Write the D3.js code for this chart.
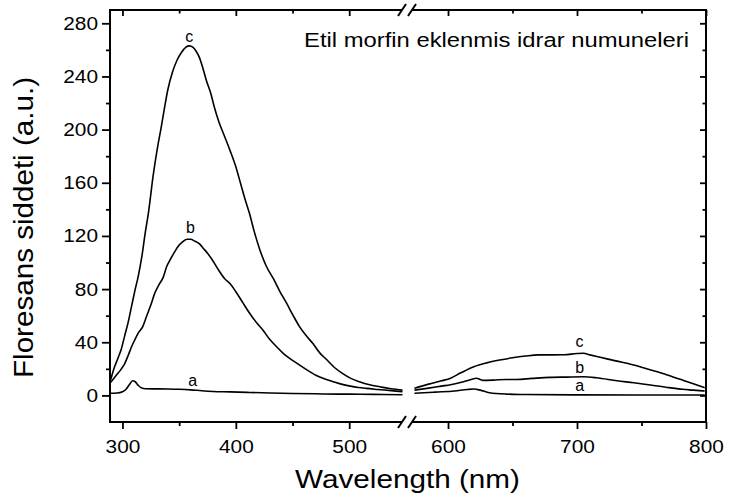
<!DOCTYPE html>
<html>
<head>
<meta charset="utf-8">
<script src="https://cdn.jsdelivr.net/npm/d3@7/dist/d3.min.js"></script>
<style>
  html, body { margin: 0; padding: 0; background: #fff; }
  svg { display: block; }
  text { font-family: "Liberation Sans", Arial, Helvetica, sans-serif; fill: #000; }
</style>
</head>
<body>
<svg id="chart" width="729" height="503"></svg>
<script>
// ---------------- data ----------------
const title = "Etil morfin eklenmis idrar numuneleri";
const xLabel = "Wavelength (nm)";
const yLabel = "Floresans siddeti (a.u.)";

const xTicksLeft = [300, 400, 500];
const xMinorLeft = [350, 450];
const xTicksRight = [600, 700, 800];
const xMinorRight = [650, 750];
const yTicks = [0, 40, 80, 120, 160, 200, 240, 280];
const yMinor = [20, 60, 100, 140, 180, 220, 260];

// curve c, first segment [wavelength, intensity]
const cLeft = [[289.7,12],[292,19],[296,28],[299,35],[302,45],[305,55],[308,67],[311,79],[314,90],[317,104],
  [320,122],[323,138],[327,165],[331,187],[334,201],[337,216],[340,230],[344,243],[348,252],[352,258],
  [356,262],[359,263],[362,262],[365,259],[368,254],[371,246],[374,237],[378,227],[381,217],[385,206],
  [390,195],[395,184],[400,172],[404,160],[408,148],[412,137],[416,124],[421,110],[427,97],[433,88],
  [439,78],[445,69],[450,61],[456,52],[462,45],[468,39],[474,32],[480,27],[487,21],[494,16.6],
  [501,13],[509,10.3],[518,8],[527,6.5],[537,5],[547,4]];
// curve c, second segment
const cRight = [[574,5.3],[585,8.5],[595,11],[602,13],[610,17],[620,21.6],[630,24.5],[640,26.6],[650,28.3],
  [660,29.6],[670,30.5],[680,30.5],[690,30.6],[700,31.5],[705,31.7],[710,30.5],[718,28.7],[730,26],
  [744,22.9],[756,19.5],[770,15.4],[782,11.5],[793,7.8],[799,5.8]];

// curve b
const bLeft = [[289.7,10],[293,13.5],[296,16.6],[299,20],[302,24],[305,30],[308,36.6],[311,42],[314,47],
  [318,52],[321,59],[325,68],[328.5,77],[332,83],[336,89],[339,97],[342,102],[346,108],[349,112],
  [353,115.5],[357,117.5],[360,117.5],[364,116],[368,114],[371,111],[375,107],[380,101],[385,94],
  [390,88],[395,84],[400,78],[406,70],[412,62],[418,55],[424,49],[430,42],[436,36.6],[442,31.5],
  [449,27],[456,23],[463,19],[471,15],[478,12.5],[486,10.3],[493,8.5],[501,7],[508,6],[515,5.3],
  [525,4.5],[537,3.6],[547,2.8]];
const bRight = [[574,4],[585,5.5],[595,7],[602,8],[612,10.3],[618,12],[622,12.9],[627,11.3],[635,11.5],
  [645,12],[653,12],[665,12.8],[679,13.6],[692,13.8],[705,14],[715,13.3],[731,11],[744,9.5],[757,7.8],
  [770,6],[782,4.6],[790,4],[799,3.3]];

// curve a
const aLeft = [[289.7,1.6],[295,1.8],[300,2.8],[303,4.5],[306,8],[309,11],[311,10.5],[314,7.5],[317,5.5],
  [320,5],[330,4.9],[340,4.8],[350,4.6],[360,4.2],[370,3.5],[380,3],[395,2.7],[410,2.3],[430,1.8],
  [450,1.4],[470,1.2],[490,1],[510,0.9],[530,0.7],[547,0.5]];
const aRight = [[574,1.6],[590,2.5],[605,3.3],[615,4.5],[620,4.8],[625,4],[632,2],[645,1],[660,0.7],
  [700,0.4],[750,0.3],[799,0.3]];

// curve labels: [text, segment, wavelength, intensity]
const curveLabels = [["c","L",359,263],["b","L",360,117.5],["a","L",362,4.2],
                     ["c","R",702,31.7],["b","R",702,14],["a","R",702,0.4]];

// ---------------- layout ----------------
const W = 729, H = 503;
const plotL = 110, plotR = 706, plotT = 10, plotB = 422;
const breakL = 402, breakR = 412;

const xLeft = d3.scaleLinear().domain([289, 550]).range([plotL, 405.9]);
const xRight = d3.scaleLinear().domain([571, 800]).range([410.6, plotR]);
const y = d3.scaleLinear().domain([-20, 290]).range([plotB, plotT]);

const svg = d3.select("#chart");
svg.append("rect").attr("width", W).attr("height", H).attr("fill", "#fff");

function styleAxis(g) {
  g.select(".domain").remove();
  g.selectAll(".tick line").attr("stroke", "#000").attr("stroke-width", 1.8);
  g.selectAll("text").attr("font-family", "Liberation Sans, Arial, sans-serif").attr("fill", "#000");
}
function fitDigits(g, size) {
  g.selectAll("text")
    .attr("font-size", size)
    .each(function() {
      const n = this.textContent.length;
      if (n) d3.select(this).attr("textLength", n * 11.6).attr("lengthAdjust", "spacingAndGlyphs");
    });
}

// bottom axes (outward), with labels
[[xLeft, xTicksLeft, xMinorLeft], [xRight, xTicksRight, xMinorRight]].forEach(([sc, maj, min]) => {
  const g1 = svg.append("g").attr("transform", `translate(0,${plotB})`)
    .call(d3.axisBottom(sc).tickValues(maj).tickSize(7).tickPadding(11));
  styleAxis(g1); fitDigits(g1, 18.5);
  const g2 = svg.append("g").attr("transform", `translate(0,${plotB})`)
    .call(d3.axisBottom(sc).tickValues(min).tickSize(4).tickFormat(""));
  styleAxis(g2);
  // top mirror (inward)
  const g3 = svg.append("g").attr("transform", `translate(0,${plotT})`)
    .call(d3.axisBottom(sc).tickValues(maj).tickSize(6).tickFormat(""));
  styleAxis(g3);
  const g4 = svg.append("g").attr("transform", `translate(0,${plotT})`)
    .call(d3.axisBottom(sc).tickValues(min).tickSize(3.5).tickFormat(""));
  styleAxis(g4);
});

// left axis (outward) with labels
const gy = svg.append("g").attr("transform", `translate(${plotL},0)`)
  .call(d3.axisLeft(y).tickValues(yTicks).tickSize(8).tickPadding(4));
styleAxis(gy); fitDigits(gy, 18.5);
const gym = svg.append("g").attr("transform", `translate(${plotL},0)`)
  .call(d3.axisLeft(y).tickValues(yMinor).tickSize(4).tickFormat(""));
styleAxis(gym);
// right axis (inward)
const gr = svg.append("g").attr("transform", `translate(${plotR},0)`)
  .call(d3.axisLeft(y).tickValues(yTicks).tickSize(6).tickFormat(""));
styleAxis(gr);
const grm = svg.append("g").attr("transform", `translate(${plotR},0)`)
  .call(d3.axisLeft(y).tickValues(yMinor).tickSize(3.5).tickFormat(""));
styleAxis(grm);

// frame lines with break
const frame = svg.append("g").attr("stroke", "#000").attr("stroke-width", 2).attr("fill", "none");
frame.append("line").attr("x1", plotL).attr("x2", plotL).attr("y1", plotT - 1).attr("y2", plotB + 1);
frame.append("line").attr("x1", plotR).attr("x2", plotR).attr("y1", plotT - 1).attr("y2", plotB + 1);
[plotT, plotB].forEach(yy => {
  frame.append("line").attr("x1", plotL - 1).attr("x2", breakL).attr("y1", yy).attr("y2", yy);
  frame.append("line").attr("x1", breakR).attr("x2", plotR + 1).attr("y1", yy).attr("y2", yy);
  [breakL, breakR].forEach(bx => {
    frame.append("line").attr("x1", bx - 4).attr("y1", yy + 6).attr("x2", bx + 4).attr("y2", yy - 6);
  });
});

// curves
const lineL = d3.line().x(d => xLeft(d[0])).y(d => y(d[1])).curve(d3.curveMonotoneX);
const lineR = d3.line().x(d => xRight(d[0])).y(d => y(d[1])).curve(d3.curveMonotoneX);
const curves = svg.append("g").attr("fill", "none").attr("stroke", "#000")
  .attr("stroke-width", 1.6).attr("stroke-linejoin", "round");
[cLeft, bLeft, aLeft].forEach(s => curves.append("path").attr("d", lineL(s)));
[cRight, bRight, aRight].forEach(s => curves.append("path").attr("d", lineR(s)));

// curve letters
const labOff = { L: { c: -3.5, b: -6, a: -4 }, R: { c: -6, b: -4, a: -4 } };
svg.append("g").selectAll("text").data(curveLabels).join("text")
  .attr("x", d => (d[1] === "L" ? xLeft : xRight)(d[2]))
  .attr("y", d => y(d[3]) + labOff[d[1]][d[0]])
  .attr("text-anchor", "middle")
  .attr("font-size", 16)
  .text(d => d[0]);

// title
svg.append("text").attr("x", 304).attr("y", 47).attr("font-size", 20.5)
  .attr("textLength", 385).attr("lengthAdjust", "spacingAndGlyphs").text(title);

// axis titles
svg.append("text").attr("x", 295).attr("y", 488).attr("font-size", 25.5)
  .attr("textLength", 225).attr("lengthAdjust", "spacingAndGlyphs").text(xLabel);
svg.append("text").attr("transform", "translate(33,378) rotate(-90)")
  .attr("font-size", 28)
  .attr("textLength", 301).attr("lengthAdjust", "spacingAndGlyphs").text(yLabel);
</script>
</body>
</html>
